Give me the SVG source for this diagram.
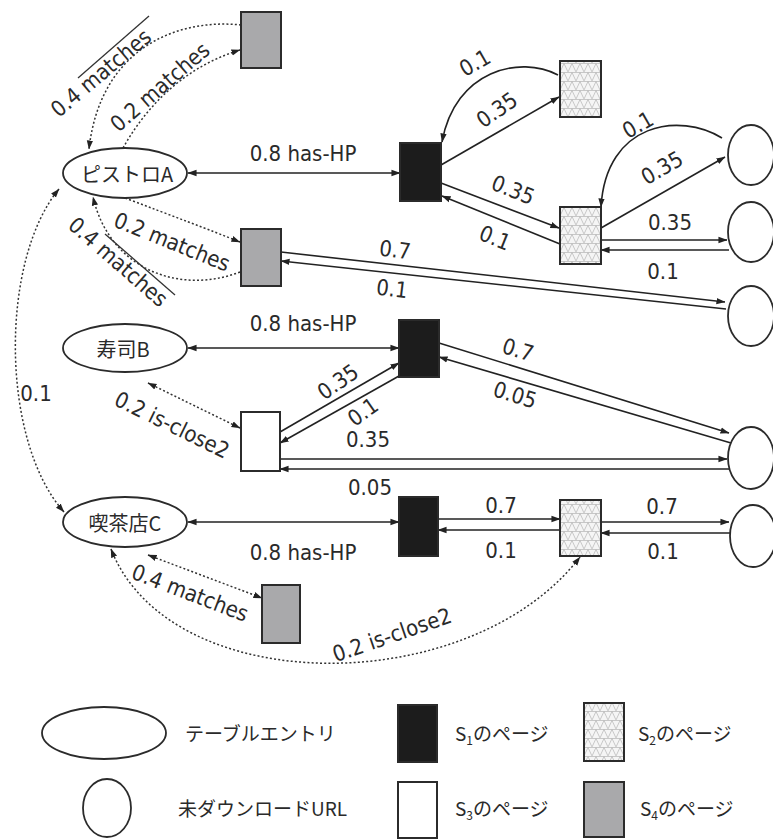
<svg xmlns="http://www.w3.org/2000/svg" width="773" height="839" viewBox="0 0 773 839">
<style>
.bg{fill:#ffffff}
.node{stroke:#2b2b2b;stroke-width:2}
.s1{fill:#1c1c1c}
.s2{fill:url(#hatch)}
.s3{fill:#ffffff}
.s4{fill:#a9a9ab}
.ent{fill:#ffffff;stroke:#2b2b2b;stroke-width:1.8}
.e{fill:none;stroke:#222;stroke-width:1.6}
.d{fill:none;stroke:#333;stroke-width:1.5;stroke-dasharray:2 2.2}
.lead{stroke:#333;stroke-width:1.3}
.lbl{font-family:"DejaVu Sans Condensed","Liberation Sans Narrow","Liberation Sans",sans-serif;font-size:22px;fill:#2a2a2a;text-anchor:middle;dominant-baseline:central}
.jp{font-family:"Noto Sans CJK JP",sans-serif;font-size:19px;fill:#2a2a2a}
.jpc{font-family:"Noto Sans CJK JP",sans-serif;font-size:20px;fill:#2a2a2a;text-anchor:middle;dominant-baseline:central}
.sub{font-size:12px}
</style>
<defs>
<marker id="ah" viewBox="0 0 10 10" refX="9.5" refY="5" markerWidth="9" markerHeight="9" markerUnits="userSpaceOnUse" orient="auto-start-reverse">
<path d="M0,1.5 L10,5 L0,8.5 z" fill="#222"/>
</marker>
<pattern id="hatch" width="8" height="9" patternUnits="userSpaceOnUse">
<rect width="8" height="9" fill="#f5f5f5"/>
<path d="M0,0.5 H8 M0,9 L4,0.5 L8,9" stroke="#b3b3b3" stroke-width="0.7" fill="none"/>
</pattern>
</defs>
<rect class="bg" x="0" y="0" width="773" height="839"/>

<g id="connectors">
<path class="e" d="M188,173 H400" marker-start="url(#ah)" marker-end="url(#ah)"/>
<path class="e" d="M188,348 H399" marker-start="url(#ah)" marker-end="url(#ah)"/>
<path class="e" d="M188,522 H399" marker-start="url(#ah)" marker-end="url(#ah)"/>
<path class="e" d="M441,165 L559,97" marker-end="url(#ah)"/>
<path class="e" d="M558,75 C 520,55 455,70 442,142" marker-end="url(#ah)"/>
<path class="e" d="M441,183 L559,228" marker-end="url(#ah)"/>
<path class="e" d="M560,244 L442,196" marker-end="url(#ah)"/>
<path class="e" d="M601,228 L725,157" marker-end="url(#ah)"/>
<path class="e" d="M722,138 C 680,112 606,122 601,207" marker-end="url(#ah)"/>
<path class="e" d="M601,240 H727" marker-end="url(#ah)"/>
<path class="e" d="M729,250 H601" marker-end="url(#ah)"/>
<path class="e" d="M281,252 L725,302" marker-end="url(#ah)"/>
<path class="e" d="M726,309 L281,261" marker-end="url(#ah)"/>
<path class="e" d="M280,432 L399,363" marker-end="url(#ah)"/>
<path class="e" d="M399,376 L280,443" marker-end="url(#ah)"/>
<path class="e" d="M439,343 L729,433" marker-end="url(#ah)"/>
<path class="e" d="M731,443 L439,357" marker-end="url(#ah)"/>
<path class="e" d="M280,459 H727" marker-end="url(#ah)"/>
<path class="e" d="M729,469 H280" marker-end="url(#ah)"/>
<path class="e" d="M438,519 H560" marker-end="url(#ah)"/>
<path class="e" d="M560,530 H438" marker-end="url(#ah)"/>
<path class="e" d="M601,522 H729" marker-end="url(#ah)"/>
<path class="e" d="M731,533 H601" marker-end="url(#ah)"/>

<path class="d" d="M241,25 C 175,18 100,50 89,149" marker-end="url(#ah)"/>
<path class="d" d="M123,148 C 150,100 190,65 240,50" marker-end="url(#ah)"/>
<path class="d" d="M125,198 C 170,215 210,230 240,242" marker-end="url(#ah)"/>
<path class="d" d="M240,272 C 180,295 110,270 93,197" marker-end="url(#ah)"/>
<path class="d" d="M59,189 C 0,260 0,440 64,512" marker-start="url(#ah)" marker-end="url(#ah)"/>
<path class="d" d="M148,383 L240,428" marker-start="url(#ah)" marker-end="url(#ah)"/>
<path class="d" d="M148,555 L262,598" marker-start="url(#ah)" marker-end="url(#ah)"/>
<path class="d" d="M111,549 C 170,700 470,700 580,557" marker-start="url(#ah)" marker-end="url(#ah)"/>

<line class="lead" x1="78" y1="78" x2="149" y2="16"/>
<line class="lead" x1="105" y1="234" x2="175" y2="295"/>

<text class="lbl" x="303" y="153">0.8 has-HP</text>
<text class="lbl" x="303" y="323">0.8 has-HP</text>
<text class="lbl" x="303" y="552">0.8 has-HP</text>
<text class="lbl" transform="translate(101,73) rotate(-40)">0.4 matches</text>
<text class="lbl" transform="translate(160,87) rotate(-41)">0.2 matches</text>
<text class="lbl" transform="translate(172,242) rotate(22)">0.2 matches</text>
<text class="lbl" transform="translate(118,262) rotate(41)">0.4 matches</text>
<text class="lbl" x="36" y="393">0.1</text>
<text class="lbl" transform="translate(172,425) rotate(26)">0.2 is-close2</text>
<text class="lbl" transform="translate(190,593) rotate(21)">0.4 matches</text>
<text class="lbl" transform="translate(392,635) rotate(-19)">0.2 is-close2</text>
<text class="lbl" transform="translate(475,63) rotate(-30)">0.1</text>
<text class="lbl" transform="translate(497,110) rotate(-35)">0.35</text>
<text class="lbl" transform="translate(513,190) rotate(22)">0.35</text>
<text class="lbl" transform="translate(495,238) rotate(22)">0.1</text>
<text class="lbl" transform="translate(638,125) rotate(-30)">0.1</text>
<text class="lbl" transform="translate(662,168) rotate(-30)">0.35</text>
<text class="lbl" x="670" y="222">0.35</text>
<text class="lbl" x="663" y="271">0.1</text>
<text class="lbl" transform="translate(395,250) rotate(7)">0.7</text>
<text class="lbl" transform="translate(392,289) rotate(7)">0.1</text>
<text class="lbl" transform="translate(338,382) rotate(-35)">0.35</text>
<text class="lbl" transform="translate(363,412) rotate(-35)">0.1</text>
<text class="lbl" transform="translate(518,350) rotate(17)">0.7</text>
<text class="lbl" transform="translate(515,395) rotate(17)">0.05</text>
<text class="lbl" x="368" y="439">0.35</text>
<text class="lbl" x="370" y="487">0.05</text>
<text class="lbl" x="501" y="505">0.7</text>
<text class="lbl" x="501" y="550">0.1</text>
<text class="lbl" x="662" y="506">0.7</text>
<text class="lbl" x="663" y="551">0.1</text>
</g>

<g id="entryA"><ellipse class="ent" cx="125" cy="173" rx="62" ry="25"/><text class="jpc" x="127" y="173">ピストロA</text></g>
<g id="entryB"><ellipse class="ent" cx="125" cy="348" rx="62" ry="24"/><text class="jpc" x="123" y="348">寿司B</text></g>
<g id="entryC"><ellipse class="ent" cx="125" cy="522" rx="62" ry="25"/><text class="jpc" x="125" y="522">喫茶店C</text></g>

<g id="s4top"><rect class="node s4" x="241" y="12" width="40" height="56"/></g>
<g id="s4mid"><rect class="node s4" x="241" y="229" width="40" height="57"/></g>
<g id="s4bot"><rect class="node s4" x="262" y="585" width="38" height="58"/></g>
<g id="s3"><rect class="node s3" x="241" y="412" width="39" height="59"/></g>
<g id="s1a"><rect class="node s1" x="400" y="143" width="41" height="58"/></g>
<g id="s1b"><rect class="node s1" x="399" y="320" width="40" height="57"/></g>
<g id="s1c"><rect class="node s1" x="399" y="497" width="39" height="59"/></g>
<g id="s2top"><rect class="node s2" x="560" y="61" width="41" height="56"/></g>
<g id="s2mid"><rect class="node s2" x="560" y="207" width="41" height="57"/></g>
<g id="s2bot"><rect class="node s2" x="560" y="500" width="41" height="56"/></g>

<g id="url1"><ellipse class="ent" cx="751" cy="155" rx="23" ry="30"/></g>
<g id="url2"><ellipse class="ent" cx="751" cy="232" rx="23" ry="30"/></g>
<g id="url3"><ellipse class="ent" cx="751" cy="316" rx="23" ry="30"/></g>
<g id="url4"><ellipse class="ent" cx="751" cy="458" rx="23" ry="31"/></g>
<g id="url5"><ellipse class="ent" cx="753" cy="536" rx="23" ry="31"/></g>

<g id="legend">
<ellipse class="ent" cx="104" cy="733" rx="62" ry="26"/>
<text class="jp" x="185" y="741">テーブルエントリ</text>
<rect class="node s1" x="398" y="705" width="39" height="57"/>
<text class="jp" x="455" y="741">S<tspan class="sub" dy="4">1</tspan><tspan dy="-4">のページ</tspan></text>
<rect class="node s2" x="584" y="703" width="40" height="58"/>
<text class="jp" x="638" y="741">S<tspan class="sub" dy="4">2</tspan><tspan dy="-4">のページ</tspan></text>
<ellipse class="ent" cx="107" cy="808" rx="24" ry="29"/>
<text class="jp" x="178" y="816">未ダウンロードURL</text>
<rect class="node s3" x="398" y="782" width="39" height="56"/>
<text class="jp" x="455" y="816">S<tspan class="sub" dy="4">3</tspan><tspan dy="-4">のページ</tspan></text>
<rect class="node s4" x="584" y="782" width="40" height="55"/>
<text class="jp" x="640" y="816">S<tspan class="sub" dy="4">4</tspan><tspan dy="-4">のページ</tspan></text>
</g>
</svg>
